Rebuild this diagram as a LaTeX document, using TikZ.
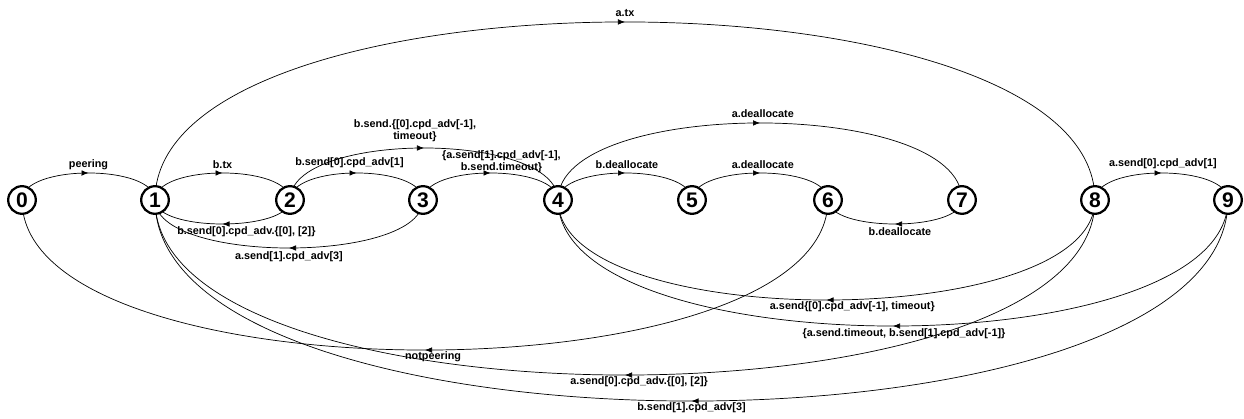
\documentclass[tikz,border=0pt]{standalone}
\usepackage{fontspec}
\setmainfont{Liberation Sans}
\usetikzlibrary{arrows.meta,decorations.markings}
\pgfdeclarelayer{bg}
\pgfsetlayers{bg,main}

\begin{document}
\begin{tikzpicture}[x=0.025cm, y=0.025cm,
    state/.style={circle, draw, line width=1.6pt, fill=white, minimum size=0.69cm,
        inner sep=0pt, font=\fontsize{15}{15}\selectfont\bfseries},
    trans/.style={line width=0.5pt, postaction={decorate},
        decoration={markings, mark=at position 0.5 with {\arrow{Latex[length=5pt,width=4pt]}}}},
    lab/.style={font=\fontsize{7.7}{8.5}\selectfont\bfseries, inner sep=0pt, align=center},
    arcup/.style={out=90, in=90, distance=#1},
    arcdn/.style={out=-90, in=-90, distance=#1}]
\useasboundingbox (0,0) rectangle (1244,419);
%%   kw   (name)   (x, y)   {text}
    \node[state] (s0) at (22,219) {0};
    \node[state] (s1) at (155,219) {1};
    \node[state] (s2) at (290,219) {2};
    \node[state] (s3) at (423,219) {3};
    \node[state] (s4) at (558,219) {4};
    \node[state] (s5) at (692,219) {5};
    \node[state] (s6) at (828,219) {6};
    \node[state] (s7) at (962,219) {7};
    \node[state] (s8) at (1095,219) {8};
    \node[state] (s9) at (1228,219) {9};

\begin{pgfonlayer}{bg}
    % short arcs
    \draw[trans] (s0.center) to[arcup=0.9cm] node[lab, yshift=5.7pt] (l01) {peering} (s1.center);
    \draw[trans] (s1.center) to[arcup=0.9cm] node[lab, yshift=5.7pt] (l12) {b.tx} (s2.center);
    \draw[trans] (s2.center) to[arcdn=0.8cm] node[lab, xshift=17pt, yshift=-5.7pt] (l21) {b.send[0].cpd\_adv.\{[0], [2]\}} (s1.center);
    \draw[trans] (s2.center) to[arcup=0.9cm] node[lab, xshift=-5pt, yshift=7pt] (l23) {b.send[0].cpd\_adv[1]} (s3.center);
    \draw[trans] (s3.center) to[arcup=0.9cm] node[lab, xshift=7.8pt, yshift=7.8pt] (l34) {\{a.send[1].cpd\_adv[-1],\\b.send.timeout\}} (s4.center);
    \draw[trans] (s4.center) to[arcup=0.9cm] node[lab, xshift=1.4pt, yshift=5.7pt] (l45) {b.deallocate} (s5.center);
    \draw[trans] (s5.center) to[arcup=0.9cm] node[lab, xshift=2pt, yshift=5.7pt] (l56) {a.deallocate} (s6.center);
    \draw[trans] (s7.center) to[arcdn=0.8cm] node[lab, xshift=3.5pt, yshift=-5.7pt] (l76) {b.deallocate} (s6.center);
    \draw[trans] (s8.center) to[arcup=0.9cm] node[lab, xshift=1pt, yshift=6.4pt] (l89) {a.send[0].cpd\_adv[1]} (s9.center);
    % longer arcs
    \draw[trans] (s3.center) to[arcdn=1.6cm] node[lab, yshift=-6.4pt] (l31) {a.send[1].cpd\_adv[3]} (s1.center);
    \draw[trans] (s2.center) to[arcup=1.733cm] node[lab, xshift=-6.4pt, yshift=12pt] (l24) {b.send.\{[0].cpd\_adv[-1],\\timeout\}} (s4.center);
    \draw[trans] (s4.center) to[arcup=2.567cm] node[lab, xshift=2pt, yshift=6.4pt] (l47) {a.deallocate} (s7.center);
    \draw[trans] (s1.center) to[arcup=5.933cm] node[lab, yshift=6.4pt] (l18) {a.tx} (s8.center);
    \draw[trans] (s8.center) to[arcdn=3.333cm] node[lab, xshift=18.4pt, yshift=-5pt] (l84) {a.send\{[0].cpd\_adv[-1], timeout\}} (s4.center);
    \draw[trans] (s9.center) to[arcdn=4.2cm] node[lab, xshift=7.8pt, yshift=-5.7pt] (l94) {\{a.send.timeout, b.send[1].cpd\_adv[-1]\}} (s4.center);
    \draw[trans] (s6.center) to[arcdn=5cm] node[lab, xshift=5.7pt, yshift=-5pt] (l60) {notpeering} (s0.center);
    \draw[trans] (s8.center) to[arcdn=5.833cm] node[lab, xshift=10pt, yshift=-5pt] (l81) {a.send[0].cpd\_adv.\{[0], [2]\}} (s1.center);
    \draw[trans] (s9.center) to[arcdn=6.7cm] node[lab, yshift=-5pt] (l91) {b.send[1].cpd\_adv[3]} (s1.center);
\end{pgfonlayer}
\end{tikzpicture}
\end{document}
